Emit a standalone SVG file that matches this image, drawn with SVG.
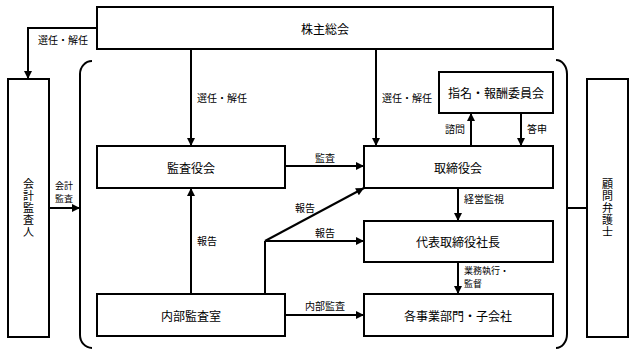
<svg xmlns="http://www.w3.org/2000/svg" width="635" height="355" viewBox="0 0 635 355">
<defs>
<marker id="ah" viewBox="0 0 10 10" refX="10" refY="5" markerWidth="10" markerHeight="8" markerUnits="userSpaceOnUse" orient="auto">
<path d="M0,0 L10,5 L0,10 Z" fill="#000"/>
</marker>
<style>
.box{fill:#fff;stroke:#000;stroke-width:2}
.ln{fill:none;stroke:#000;stroke-width:2}
.arr{fill:none;stroke:#000;stroke-width:2;marker-end:url(#ah)}
.t{font-family:"Noto Sans CJK JP","Noto Sans",sans-serif;font-size:12px;fill:#000;text-anchor:middle;dominant-baseline:central}
.v{font-family:"Noto Sans CJK JP","Noto Sans",sans-serif;font-size:11px;fill:#000;text-anchor:middle;writing-mode:vertical-rl;letter-spacing:1px}
.s{font-family:"Noto Sans CJK JP","Noto Sans",sans-serif;font-size:10px;fill:#000;dominant-baseline:central}
.s2{font-size:9px}
</style>
</defs>
<rect width="635" height="355" fill="#fff"/>
<g id="brackets">
<path class="ln" d="M92,61 A12,13 0 0 0 80,74 V335 A12,13 0 0 0 92,348"/>
<path class="ln" d="M556,60 A11,14 0 0 1 567,74 V334 A11,14 0 0 1 556,348"/>
</g>
<g id="connectors">
<path class="arr" d="M97,28 H28 V79"/>
<path class="arr" d="M191,49 V146"/>
<path class="arr" d="M376,49 V146"/>
<path class="arr" d="M471,146 V113"/>
<path class="arr" d="M521,113 V146"/>
<path class="arr" d="M285,166 H364"/>
<path class="arr" d="M191,294 V188"/>
<path class="ln" d="M265,294 V241"/>
<path class="arr" d="M265,241 L364,188"/>
<path class="arr" d="M265,241 H364"/>
<path class="arr" d="M458,188 V221"/>
<path class="arr" d="M458,262 V294"/>
<path class="arr" d="M285,315 H364"/>
<path class="arr" d="M49,208 H80"/>
<path class="ln" d="M567,208 H587"/>
<text class="s" x="38" y="39">選任・解任</text>
<text class="s" x="197" y="97">選任・解任</text>
<text class="s" x="382" y="97">選任・解任</text>
<text class="s" x="445" y="128">諮問</text>
<text class="s" x="527" y="128">答申</text>
<text class="s" x="315" y="157">監査</text>
<text class="s" x="197" y="240">報告</text>
<text class="s" x="295" y="207">報告</text>
<text class="s" x="315" y="232">報告</text>
<text class="s" x="464" y="198">経営監視</text>
<text class="s s2" x="464" y="270"><tspan x="464" y="270">業務執行・</tspan><tspan x="464" y="283">監督</tspan></text>
<text class="s" x="305" y="305">内部監査</text>
<text class="s s2" x="55" y="185"><tspan x="55" y="185">会計</tspan><tspan x="55" y="198">監査</tspan></text>
</g>
<g id="shareholders">
<rect class="box" x="97" y="7" width="456" height="42"/>
<text class="t" x="325" y="28">株主総会</text>
</g>
<g id="auditor">
<rect class="box" x="8" y="79" width="41" height="258"/>
<text class="v" x="28.5" y="208">会計監査人</text>
</g>
<g id="lawyer">
<rect class="box" x="587" y="79" width="41" height="258"/>
<text class="v" x="607.5" y="208">顧問弁護士</text>
</g>
<g id="committee">
<rect class="box" x="439" y="72" width="114" height="41"/>
<text class="t" x="496" y="92.5">指名・報酬委員会</text>
</g>
<g id="kansayakukai">
<rect class="box" x="97" y="146" width="188" height="42"/>
<text class="t" x="191" y="167">監査役会</text>
</g>
<g id="torishimariyakukai">
<rect class="box" x="364" y="146" width="189" height="42"/>
<text class="t" x="458" y="167">取締役会</text>
</g>
<g id="president">
<rect class="box" x="364" y="221" width="189" height="41"/>
<text class="t" x="458" y="241.5">代表取締役社長</text>
</g>
<g id="internal-audit">
<rect class="box" x="97" y="294" width="188" height="42"/>
<text class="t" x="191" y="315">内部監査室</text>
</g>
<g id="divisions">
<rect class="box" x="364" y="294" width="189" height="42"/>
<text class="t" x="458" y="315">各事業部門・子会社</text>
</g>
</svg>
